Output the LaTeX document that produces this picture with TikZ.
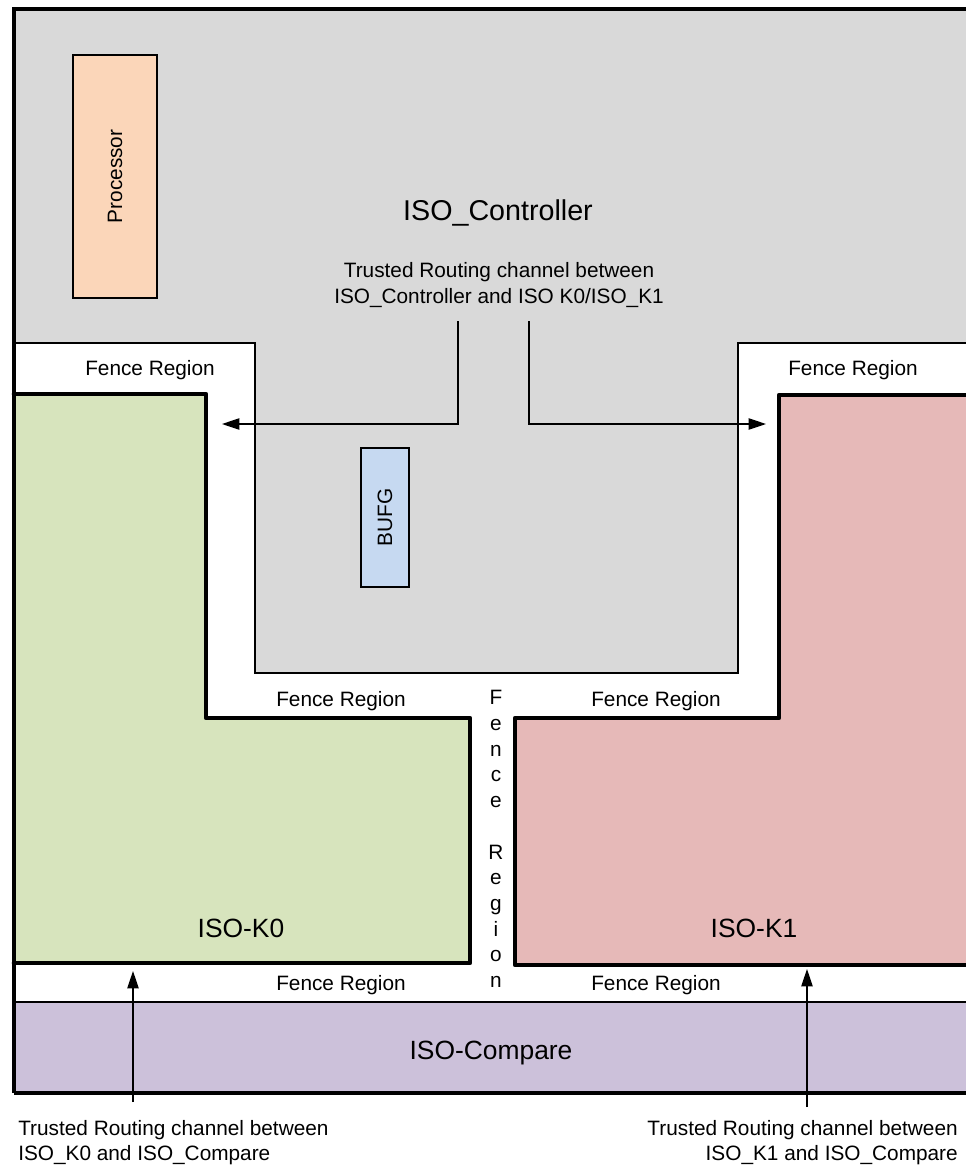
\documentclass[tikz,border=0pt]{standalone}
\usepackage{fontspec}
\setmainfont{Liberation Sans}
\usetikzlibrary{arrows.meta}
\definecolor{ctrlgray}{HTML}{D9D9D9}
\definecolor{procpeach}{HTML}{FBD6B9}
\definecolor{bufgblue}{HTML}{C6D9F1}
\definecolor{kzgreen}{HTML}{D7E4BD}
\definecolor{kopink}{HTML}{E6B9B8}
\definecolor{cmppurple}{HTML}{CCC1DA}
\tikzset{
  thinline/.style={line width=1.1pt},
  thickline/.style={line width=3.4pt, line join=round, line cap=round},
  frameline/.style={line width=2pt},
  arr/.style={line width=0.9pt, -{Triangle[length=13pt,width=8.5pt]}},
  smalltxt/.style={font=\fontsize{15.6}{18.8}\selectfont, inner sep=0pt},
  bigtxt/.style={font=\fontsize{19.8}{24}\selectfont, inner sep=0pt},
  boxlbl/.style={draw, line width=1.1pt, inner sep=0pt}
}
\begin{document}
\begin{tikzpicture}[x=0.75pt,y=-0.75pt]
\useasboundingbox (0,0) rectangle (966,1165);
\clip (0,0) rectangle (966,1165);
\fill[white] (0,0) rectangle (966,1165);
% controller region
\filldraw[fill=ctrlgray, thinline] (14,9) -- (1000,9) -- (1000,343) -- (738,343) -- (738,673) -- (255,673) -- (255,343) -- (14,343) -- cycle;
% ISO-K0
\fill[kzgreen] (14,394) -- (206,394) -- (206,718) -- (470,718) -- (470,963) -- (14,963) -- cycle;
\draw[thickline] (14,394) -- (206,394) -- (206,718) -- (470,718) -- (470,963) -- (14,963);
% ISO-K1
\fill[kopink] (779,395) -- (1000,395) -- (1000,965) -- (515,965) -- (515,718) -- (779,718) -- cycle;
\draw[thickline] (1000,395) -- (779,395) -- (779,718) -- (515,718) -- (515,965) -- (1000,965);
% ISO-Compare
\fill[cmppurple] (14,1002) rectangle (1000,1093);
\draw[frameline] (14,1002) -- (1000,1002);
\draw[line width=2.4pt] (14,1093) -- (1000,1093);
% outer frame
\draw[line width=2.4pt] (14,1093) -- (14,9) -- (1000,9);
% inner boxes
\node[boxlbl, fill=procpeach, minimum width=84*0.75pt, minimum height=243*0.75pt] (proc) at (115,176.5) {};
\node[smalltxt, rotate=90] (proctxt) at (proc.center) {Processor};
\node[boxlbl, fill=bufgblue, minimum width=48*0.75pt, minimum height=139*0.75pt] (bufg) at (385,517.5) {};
\node[smalltxt, rotate=90] (bufgtxt) at (bufg.center) {BUFG};
% labels
\node[inner sep=0pt, font=\fontsize{21.5}{26}\selectfont] (ctrl) at (498,213) {ISO\_Controller};
\node[smalltxt, align=center, font=\fontsize{15.6}{18.8}\selectfont] (trust) at (499,285) {Trusted Routing channel between\\ISO\_Controller and ISO K0/ISO\_K1};
\node[bigtxt] (k0) at (241,928) {ISO-K0};
\node[bigtxt] (k1) at (754,928) {ISO-K1};
\node[bigtxt] (cmp) at (491,1053) {ISO-Compare};
\node[smalltxt] (f1) at (150,370) {Fence Region};
\node[smalltxt] (f2) at (853,370) {Fence Region};
\node[smalltxt] (f3) at (341,701) {Fence Region};
\node[smalltxt] (f4) at (656,701) {Fence Region};
\node[smalltxt] (f5) at (341,985) {Fence Region};
\node[smalltxt] (f6) at (656,985) {Fence Region};
\node[smalltxt, align=center, font=\fontsize{15.6}{19.3}\selectfont] (fv) at (496,839) {F\\e\\n\\c\\e\\~\\R\\e\\g\\i\\o\\n};
\node[smalltxt, align=left, anchor=north west, font=\fontsize{15.6}{18.8}\selectfont] (b1) at (18,1120) {Trusted Routing channel between\\ISO\_K0 and ISO\_Compare};
\node[smalltxt, align=right, anchor=north east, font=\fontsize{15.6}{18.8}\selectfont] (b2) at (958,1120) {Trusted Routing channel between\\ISO\_K1 and ISO\_Compare};
% connectors
\coordinate (a1s) at (458,321);
\coordinate (a1e) at (222,424);
\coordinate (a2s) at (529,321);
\coordinate (a2e) at (766,424);
\coordinate (a3s) at (133,1102);
\coordinate (a3e) at (133,971);
\coordinate (a4s) at (807,1107);
\coordinate (a4e) at (807,969);
\draw[arr] (a1s) |- (a1e);
\draw[arr] (a2s) |- (a2e);
\draw[arr] (a3s) -- (a3e);
\draw[arr] (a4s) -- (a4e);
\end{tikzpicture}
\end{document}
